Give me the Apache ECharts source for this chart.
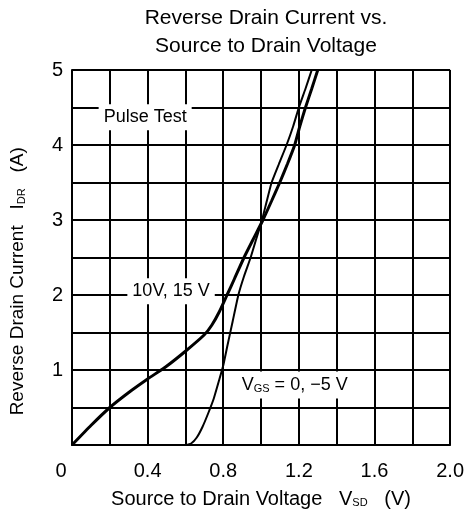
<!DOCTYPE html>
<html>
<head>
<meta charset="utf-8">
<script src="https://cdn.jsdelivr.net/npm/echarts@6/dist/echarts.min.js"></script>
<style>html,body{margin:0;padding:0;background:#fff}#c{width:467px;height:519px}</style>
</head>
<body>
<div id="c"></div>
<script>
// Curve for V_GS = 10 V, 15 V
const vA = [0, 0.1, 0.2, 0.3, 0.4, 0.5, 0.6, 0.7, 0.74, 0.78, 0.82, 0.86, 0.91, 0.96, 1.01, 1.055, 1.099, 1.14, 1.178, 1.205, 1.235, 1.268, 1.30];
const iA = [0, 0.26, 0.5, 0.7, 0.88, 1.05, 1.25, 1.47, 1.6, 1.78, 2.0, 2.22, 2.5, 2.75, 3.0, 3.25, 3.5, 3.75, 4.0, 4.25, 4.5, 4.75, 5.0];
// Curve for V_GS = 0, -5 V
const vB = [0.6, 0.63, 0.66, 0.69, 0.72, 0.75, 0.78, 0.8, 0.82, 0.85, 0.88, 0.91, 0.945, 0.975, 1.005, 1.03, 1.056, 1.095, 1.135, 1.17, 1.2, 1.235, 1.268];
const iB = [0, 0.02, 0.1, 0.24, 0.42, 0.62, 0.88, 1.06, 1.3, 1.65, 2.0, 2.25, 2.5, 2.75, 3.0, 3.25, 3.5, 3.75, 4.0, 4.25, 4.5, 4.75, 5.0];

const xTickLabels = ['0', '0.4', '0.8', '1.2', '1.6', '2.0'];
const yTickLabels = ['1', '2', '3', '4', '5'];

const FONT = "'Liberation Sans', Arial, sans-serif";
const chart = echarts.init(document.getElementById('c'));
const zip = (a, b) => a.map((v, i) => [v, b[i]]);

const richSub = {
  n: { fontSize: 19, fontFamily: FONT, color: '#000' },
  s: { fontSize: 11, fontFamily: FONT, color: '#000', padding: [8, 0, 0, 0] }
};

const lbl = (text, x, y) => ({
  value: [x, y],
  itemStyle: { opacity: 1 },
  label: {
    show: true, position: 'inside', formatter: text, opacity: 1,
    backgroundColor: '#fff', padding: [4, 5],
    color: '#000', fontFamily: FONT, fontSize: 18,
    rich: {
      n: { fontSize: 18, fontFamily: FONT, color: '#000' },
      s: { fontSize: 11, fontFamily: FONT, color: '#000', padding: [8, 0, 0, 0] }
    }
  }
});

chart.setOption({
  animation: false,
  backgroundColor: '#fff',
  title: {
    text: 'Reverse Drain Current vs.\nSource to Drain Voltage',
    left: 261, top: -1, textAlign: 'center',
    textStyle: { fontFamily: FONT, fontSize: 21, fontWeight: 'normal', color: '#000', lineHeight: 28 }
  },
  grid: { left: 70, right: 15, top: 70, bottom: 74 },
  xAxis: {
    type: 'value', min: 0, max: 2, interval: 0.2,
    axisLine: { show: true, lineStyle: { color: '#000', width: 2 } },
    axisTick: { show: false },
    splitLine: { show: true, lineStyle: { color: '#000', width: 2 } },
    axisLabel: {
      color: '#000', fontFamily: FONT, fontSize: 20, margin: 16,
      formatter: v => {
        const k = Math.round(v * 10);
        if (k % 4 !== 0) return '';
        const t = xTickLabels[k / 4];
        return k === 0 ? '{z|' + t + '}' : t;
      },
      rich: { z: { fontSize: 20, fontFamily: FONT, color: '#000', padding: [0, 22, 0, 0] } }
    },
    name: '{n|Source to Drain Voltage   V}{s|SD}{n|   (V)}',
    nameLocation: 'middle', nameGap: 44,
    nameTextStyle: { rich: { n: { fontSize: 20, fontFamily: FONT, color: '#000' }, s: richSub.s } }
  },
  yAxis: {
    type: 'value', min: 0, max: 5, interval: 0.5,
    axisLine: { show: true, lineStyle: { color: '#000', width: 2 } },
    axisTick: { show: false },
    splitLine: { show: true, lineStyle: { color: '#000', width: 2 } },
    axisLabel: {
      color: '#000', fontFamily: FONT, fontSize: 20, margin: 9,
      formatter: v => {
        const k = Math.round(v * 2);
        if (k % 2 !== 0 || k === 0) return '';
        return yTickLabels[k / 2 - 1];
      }
    },
    name: '{n|Reverse Drain Current   I}{s|DR}{n|   (A)         }',
    nameLocation: 'middle', nameGap: 45, nameRotate: 90,
    nameTextStyle: { rich: richSub }
  },
  series: [
    {
      type: 'line', name: '10 V, 15 V', data: zip(vA, iA), showSymbol: false, smooth: 0.15,
      lineStyle: { color: '#000', width: 3 }, z: 3
    },
    {
      type: 'line', name: '0, -5 V', data: zip(vB, iB), showSymbol: false, smooth: 0.15,
      lineStyle: { color: '#000', width: 2 }, z: 3
    },
    {
      type: 'scatter', symbolSize: 0, silent: true, z: 5,
      itemStyle: { opacity: 1 },
      data: [
        lbl('Pulse Test', 0.387, 4.37),
        lbl('10V, 15 V', 0.524, 2.05),
        lbl('{n|V}{s|GS}{n| = 0, \u22125 V}', 1.178, 0.8)
      ]
    }
  ]
});
</script>
</body>
</html>
